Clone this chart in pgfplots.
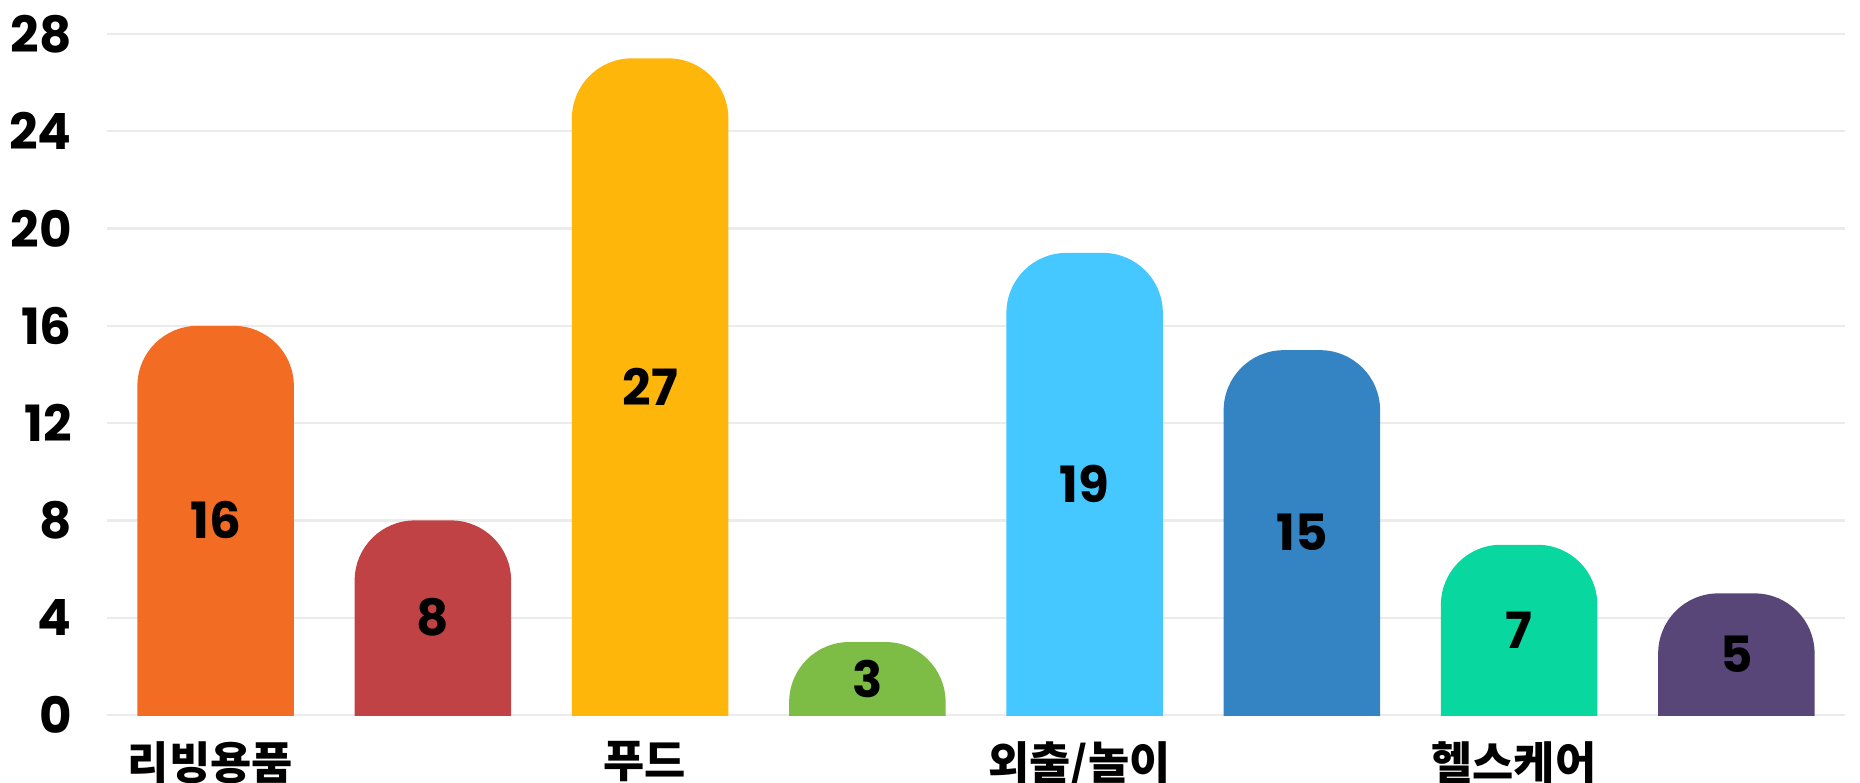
\documentclass[border=0pt]{standalone}
\usepackage{fontspec}
\setmainfont{Poppins}
\newfontfamily\kr{Noto Sans CJK KR Black}
\usepackage{pgfplots}
\usepackage{pgfplotstable}
\pgfplotsset{compat=1.18}
\tikzset{catlabel/.style={font=\kr\fontsize{11.2}{13}\selectfont, anchor=north, inner sep=0pt, text=black}}

\definecolor{c0}{HTML}{F26C24}
\definecolor{c1}{HTML}{C04244}
\definecolor{c2}{HTML}{FFB60A}
\definecolor{c3}{HTML}{7DBD45}
\definecolor{c4}{HTML}{45C8FF}
\definecolor{c5}{HTML}{3484C4}
\definecolor{c6}{HTML}{08D8A0}
\definecolor{c7}{HTML}{574677}
\definecolor{gridgray}{HTML}{EBEBEB}

\pgfplotstableread{
x v
0 16
1 8
2 27
3 3
4 19
5 15
6 7
7 5
}\data

\begin{document}
\begin{tikzpicture}
\begin{axis}[
  scale only axis, width=434.5pt, height=200.65pt,
  xmin=-0.5, xmax=7.5, ymin=-5, ymax=28,
  y coord trafo/.code={\pgfmathparse{#1+5}},
  y coord inv trafo/.code={\pgfmathparse{#1-5}},
  ytick={0,4,8,12,16,20,24,28},
  yticklabels={0,4,8,12,16,20,24,28},
  xtick=\empty,
  axis line style={draw=none},
  major tick style={draw=none},
  ymajorgrids,
  grid style={color=gridgray, line width=0.6pt},
  yticklabel style={font=\fontsize{12.5}{14}\selectfont\bfseries, anchor=east, inner sep=0pt, xshift=-8.6pt},
  /pgf/number format/assume math mode=true,
  clip=true,
]
\pgfplotsinvokeforeach{0,...,7}{
  \addplot[ybar, bar width=0.72, bar shift=0pt, fill=c#1, draw=none,
    rounded corners=15pt, restrict x to domain=#1:#1]
    table[x=x, y=v]{\data};
}
\fill[white] (axis cs:-0.5,-5) rectangle ([yshift=-0.3pt]axis cs:7.5,0);
\addplot[draw=none, mark=none, nodes near coords, point meta=explicit,
  every node near coord/.append style={font=\fontsize{12.5}{14}\selectfont\bfseries, anchor=center, inner sep=0pt, text=black}]
  table[x=x, y expr=\thisrow{v}/2, meta=v]{\data};
\node[catlabel] at ([xshift=-1.3pt,yshift=-6.5pt]axis cs:0,0) {리빙용품};
\node[catlabel] at ([xshift=-1.3pt,yshift=-6.5pt]axis cs:2,0) {푸드};
\node[catlabel] at ([xshift=-1.3pt,yshift=-6.5pt]axis cs:4,0) {외출/놀이};
\node[catlabel] at ([xshift=-1.3pt,yshift=-6.5pt]axis cs:6,0) {헬스케어};
\end{axis}
\pgfresetboundingbox
\path ([shift={(-26.75pt,13.65pt)}]current axis.south west) rectangle ([shift={(3.75pt,8.5pt)}]current axis.north east);
\end{tikzpicture}
\end{document}
